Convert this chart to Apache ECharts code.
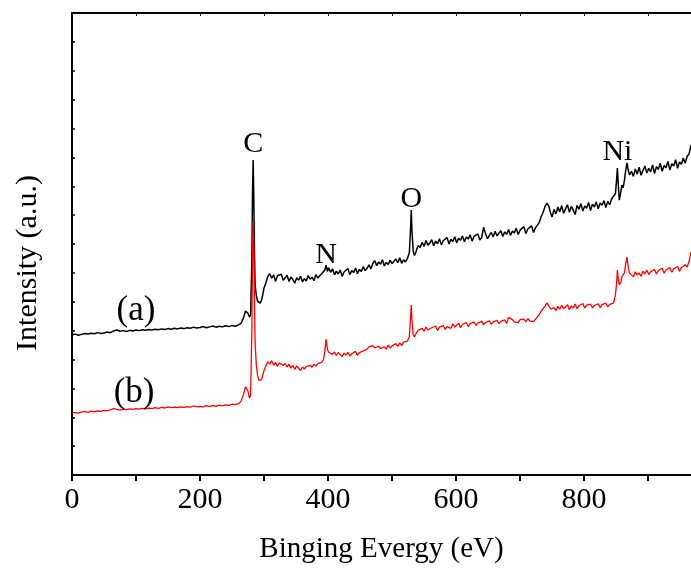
<!DOCTYPE html>
<html>
<head>
<meta charset="utf-8">
<script src="https://cdn.jsdelivr.net/npm/echarts@6/dist/echarts.min.js"></script>
<style>
  html, body { margin: 0; padding: 0; background: #fff; }
  #chart { width: 691px; height: 569px; }
</style>
</head>
<body>
<div id="chart"></div>
<script>
// XPS survey spectra: [binding energy (eV), intensity (a.u.)]
const spectrumA = [
  [0,4.85],[5,4.88],[10,4.84],[15,4.87],[20,4.90],[25,4.88],[30,4.91],[35,4.89],[40,4.93],[45,4.90],
  [50,4.92],[55,4.95],[60,4.93],[65,4.99],[70,5.02],[75,4.98],[80,5.00],[85,4.97],[90,5.01],[95,4.99],
  [100,5.02],[105,5.00],[110,5.03],[115,5.01],[120,5.04],[125,5.02],[130,5.05],[135,5.03],[140,5.06],[145,5.04],
  [150,5.07],[155,5.05],[160,5.08],[165,5.06],[170,5.09],[175,5.07],[180,5.10],[185,5.08],[190,5.12],[195,5.09],
  [200,5.11],[205,5.14],[210,5.10],[215,5.13],[220,5.16],[225,5.12],[230,5.15],[235,5.13],[240,5.17],[245,5.14],
  [250,5.18],[255,5.15],[260,5.20],[264,5.25],[268,5.45],[271,5.68],[273,5.72],[275,5.60],[277,5.47],[279,5.55],
  [281,7.5],[282,9.8],[283,10.91],[284,9.6],[285,7.8],[286,6.6],[288,6.2],[290,6.02],[292,5.96],[294,5.95],
  [296,6.05],[298,6.25],[300,6.48],
  [303,6.66],[306,6.88],[309,6.97],[312,6.82],[315,6.93],[318,6.71],[321,6.90],[324,6.84],[327,6.95],[330,6.74],
  [333,6.79],[336,6.92],[339,6.70],[342,6.86],[345,6.77],[348,6.64],[351,6.83],[354,6.75],[357,6.88],[360,6.69],
  [363,6.80],[366,6.72],[369,6.91],[372,6.78],[375,6.85],[378,6.73],[381,6.94],[384,6.82],[387,6.90],[390,6.97],
  [393,7.00],[395,7.10],[397,7.27],[399,7.05],[401,7.18],
  [404,7.02],[407,7.14],[410,6.93],[413,7.06],[416,6.96],[419,7.10],[422,6.88],[425,7.03],[428,7.00],[431,7.15],
  [434,6.94],[437,7.08],[440,7.01],[443,7.17],[446,6.97],[449,7.12],[452,7.05],[455,7.22],[458,7.08],[461,7.16],
  [464,7.28],[467,7.14],[470,7.33],[473,7.42],[476,7.25],[479,7.38],[482,7.30],[485,7.46],[488,7.24],[491,7.36],
  [494,7.29],[497,7.44],[500,7.32],[503,7.26],[506,7.48],[509,7.35],[512,7.52],[515,7.33],[518,7.45],[521,7.38],
  [524,7.50],
  [527,7.70],[529,8.6],[530,9.18],[531,8.5],[533,7.75],[535,7.60],[537,7.70],[539,7.85],[541,7.95],
  [544,7.88],[547,8.06],[550,7.92],[553,8.12],[556,7.96],[559,8.03],[562,8.15],[565,7.94],[568,8.10],[571,8.01],
  [574,8.18],[577,7.97],[580,8.12],[583,8.06],[586,8.22],[589,8.00],[592,8.16],[595,8.09],[598,8.25],[601,8.04],
  [604,8.20],[607,8.13],[610,8.28],[613,8.08],[616,8.24],[619,8.17],[622,8.32],[625,8.10],[628,8.26],[631,8.20],
  [634,8.35],[637,8.14],[640,8.22],[643,8.58],[646,8.36],[649,8.18],[652,8.30],[655,8.40],[658,8.24],[661,8.44],
  [664,8.28],[667,8.38],[670,8.46],[673,8.26],[676,8.42],[679,8.34],[682,8.50],[685,8.30],[688,8.45],[691,8.38],
  [694,8.55],[697,8.33],[700,8.48],[703,8.42],[706,8.60],[709,8.36],[712,8.52],[715,8.46],[718,8.63],[721,8.40],
  [724,8.56],[727,8.50],
  [730,8.75],[733,8.95],[736,9.10],[739,9.30],[742,9.42],[745,9.30],[748,9.05],[750,8.94],
  [753,9.20],[756,9.04],[759,9.28],[762,9.12],[765,9.33],[768,9.06],[771,9.22],[774,9.36],[777,9.10],[780,9.30],
  [783,9.18],[786,9.02],[789,9.34],[792,9.20],[795,9.40],[798,9.14],[801,9.32],[804,9.24],[807,9.44],[810,9.16],
  [813,9.38],[816,9.28],[819,9.46],[822,9.22],[825,9.42],[828,9.34],[831,9.50],[834,9.26],[837,9.48],[840,9.36],
  [843,9.56],
  [846,9.55],[849,9.75],[851,10.3],[852,10.63],[853,10.2],[855,9.52],[857,9.75],[859,10.04],[861,9.95],[863,10.2],
  [865,10.55],[867,10.81],[869,10.55],[871,10.39],
  [874,10.52],[877,10.34],[880,10.60],[883,10.42],[886,10.66],[889,10.38],[892,10.55],[895,10.70],[898,10.46],[901,10.62],
  [904,10.50],[907,10.74],[910,10.44],[913,10.68],[916,10.58],[919,10.80],[922,10.52],[925,10.72],[928,10.64],[931,10.86],
  [934,10.56],[937,10.78],[940,10.70],[943,10.92],[946,10.62],[949,10.84],[952,10.76],[955,10.98],[958,10.80],[961,11.04],
  [964,11.12],[967,11.43]
];

const spectrumB = [
  [0,2.15],[5,2.17],[10,2.14],[15,2.18],[20,2.20],[25,2.17],[30,2.21],[35,2.19],[40,2.22],[45,2.20],
  [50,2.24],[55,2.22],[60,2.26],[65,2.30],[70,2.27],[75,2.25],[80,2.28],[85,2.26],[90,2.29],[95,2.27],
  [100,2.30],[105,2.28],[110,2.31],[115,2.29],[120,2.32],[125,2.30],[130,2.33],[135,2.31],[140,2.34],[145,2.32],
  [150,2.36],[155,2.33],[160,2.35],[165,2.33],[170,2.36],[175,2.34],[180,2.37],[185,2.35],[190,2.39],[195,2.36],
  [200,2.38],[205,2.36],[210,2.40],[215,2.37],[220,2.41],[225,2.38],[230,2.42],[235,2.39],[240,2.43],[245,2.41],
  [250,2.45],[255,2.44],[260,2.47],[264,2.55],[268,2.80],[271,3.05],[273,3.08],[275,2.90],[277,2.67],[279,2.75],
  [281,5.0],[282,7.6],[283,8.83],[284,7.9],[285,6.0],[286,4.6],[288,3.8],[290,3.45],[292,3.28],[294,3.22],
  [296,3.30],[298,3.45],[300,3.62],
  [303,3.78],[306,3.92],[309,3.84],[312,3.96],[315,3.80],[318,3.90],[321,3.76],[324,3.88],[327,3.94],[330,3.79],
  [333,3.86],[336,3.74],[339,3.83],[342,3.70],[345,3.80],[348,3.66],[351,3.78],[354,3.72],[357,3.62],[360,3.74],
  [363,3.67],[366,3.76],[369,3.70],[372,3.80],[375,3.73],[378,3.84],[381,3.77],[384,3.86],[387,3.80],[390,3.90],
  [393,4.00],[395,4.30],[397,4.71],[399,4.35],[401,4.25],
  [404,4.30],[407,4.18],[410,4.26],[413,4.14],[416,4.24],[419,4.20],[422,4.10],[425,4.22],[428,4.15],[431,4.25],
  [434,4.12],[437,4.20],[440,4.17],[443,4.28],[446,4.14],[449,4.24],[452,4.20],[455,4.30],[458,4.24],[461,4.36],
  [464,4.44],[467,4.38],[470,4.48],[473,4.40],[476,4.35],[479,4.46],[482,4.38],[485,4.32],[488,4.44],[491,4.36],
  [494,4.50],[497,4.40],[500,4.47],[503,4.42],[506,4.55],[509,4.45],[512,4.58],[515,4.48],[518,4.60],[521,4.54],
  [524,4.64],
  [527,4.80],[529,5.5],[530,5.89],[531,5.4],[533,4.85],[535,4.78],[537,4.88],[539,4.95],[541,5.02],
  [544,4.96],[547,5.08],[550,4.98],[553,5.12],[556,5.02],[559,4.97],[562,5.10],[565,5.05],[568,5.16],[571,5.00],
  [574,5.12],[577,5.06],[580,5.18],[583,5.04],[586,5.14],[589,5.20],[592,5.08],[595,5.24],[598,5.12],[601,5.18],
  [604,5.26],[607,5.10],[610,5.22],[613,5.16],[616,5.28],[619,5.14],[622,5.24],[625,5.20],[628,5.30],[631,5.18],
  [634,5.26],[637,5.22],[640,5.32],[643,5.20],[646,5.28],[649,5.24],[652,5.34],[655,5.22],[658,5.30],[661,5.26],
  [664,5.36],[667,5.24],[670,5.32],[673,5.28],[676,5.37],[679,5.25],[682,5.46],[685,5.48],[688,5.38],[691,5.30],
  [694,5.36],[697,5.28],[700,5.38],[703,5.32],[706,5.40],[709,5.30],[712,5.42],[715,5.34],[718,5.39],[721,5.31],
  [724,5.40],[727,5.38],
  [730,5.55],[733,5.68],[736,5.72],[739,5.85],[742,5.96],[745,5.85],[748,5.74],[750,5.71],
  [753,5.80],[756,5.70],[759,5.84],[762,5.74],[765,5.88],[768,5.76],[771,5.82],[774,5.90],[777,5.72],[780,5.86],
  [783,5.78],[786,5.92],[789,5.76],[792,5.86],[795,5.80],[798,5.94],[801,5.78],[804,5.88],[807,5.82],[810,5.92],
  [813,5.79],[816,5.87],[819,5.83],[822,5.93],[825,5.80],[828,5.90],[831,5.85],[834,5.95],[837,5.82],[840,5.91],
  [843,5.94],
  [846,5.95],[849,6.25],[851,6.70],[852,7.10],[853,6.85],[855,6.58],[857,6.65],[859,6.86],[861,6.80],[863,7.00],
  [865,7.30],[867,7.55],[869,7.20],[871,7.00],
  [874,6.95],[877,6.86],[880,7.04],[883,6.92],[886,7.00],[889,6.88],[892,7.06],[895,6.96],[898,7.10],[901,6.94],
  [904,7.04],[907,6.98],[910,7.12],[913,6.96],[916,7.08],[919,7.02],[922,7.16],[925,6.99],[928,7.10],[931,7.05],
  [934,7.18],[937,7.02],[940,7.14],[943,7.08],[946,7.22],[949,7.06],[952,7.18],[955,7.12],[958,7.28],[961,7.20],
  [964,7.40],[967,7.72]
];

// Element peaks labelled on spectrum (a): [name, binding energy, intensity]
const peakLabels = [
  ['C', 283, 10.91],
  ['N', 397, 7.27],
  ['O', 530, 9.18],
  ['Ni', 852, 10.63]
];

// Sample tags placed beside each curve: [text, energy, intensity]
const sampleTags = [
  ['(a)', 100, 5.68],
  ['(b)', 97, 2.84]
];

const xTickLabels = [0, 200, 400, 600, 800];

const FONT = "'Liberation Serif', 'Times New Roman', serif";
// gap between each peak and its element symbol, in px
const peakLabelGap = { C: 1, N: -5, O: -4, Ni: 1 };

const chart = echarts.init(document.getElementById('chart'), null, { renderer: 'canvas' });

const axisLineStyle = { color: '#000', width: 2 };

const option = {
  animation: false,
  backgroundColor: '#fff',
  grid: { left: 72, right: 0, top: 13, bottom: 94, containLabel: false, outerBoundsMode: 'none' },
  xAxis: [
    {
      type: 'value', min: 0, max: 967, interval: 100,
      name: 'Binging Evergy (eV)', nameLocation: 'middle', nameGap: 60,
      nameTextStyle: { fontFamily: FONT, fontSize: 29, color: '#000' },
      axisLine: { lineStyle: axisLineStyle },
      axisTick: { inside: false, length: 6, lineStyle: { color: '#000', width: 2 } },
      axisLabel: {
        fontFamily: FONT, fontSize: 30, color: '#000', margin: 10,
        showMaxLabel: false,
        formatter: v => (xTickLabels.indexOf(v) >= 0 ? String(v) : '')
      },
      splitLine: { show: false }
    },
    {
      type: 'value', position: 'top', min: 0, max: 967, interval: 100,
      axisLine: { show: true, lineStyle: axisLineStyle },
      axisTick: { show: true, inside: true, length: 3, lineStyle: { color: '#000', width: 1 } },
      axisLabel: { show: false },
      splitLine: { show: false }
    }
  ],
  yAxis: {
    type: 'value', min: 0, max: 16, interval: 1,
    axisLine: { show: true, lineStyle: axisLineStyle },
    axisTick: { inside: true, length: 3, lineStyle: { color: '#000', width: 1.5 } },
    axisLabel: { show: false },
    splitLine: { show: false }
  },
  graphic: [{
    type: 'text', x: 28, y: 263, rotation: Math.PI / 2,
    style: {
      text: 'Intensity (a.u.)', fontFamily: FONT, fontSize: 30, fill: '#000',
      textAlign: 'center', textVerticalAlign: 'middle'
    }
  }],
  series: [
    {
      name: '(a)', type: 'line', data: spectrumA, showSymbol: false,
      lineStyle: { color: '#000', width: 1.5 }, z: 2,
      markPoint: {
        symbol: 'circle', symbolSize: 0,
        label: {
          show: true, position: 'top',
          fontFamily: FONT, fontSize: 30, color: '#000',
          formatter: p => p.name
        },
        data: peakLabels.map(p => ({
          name: p[0], coord: [p[1], p[2]],
          label: { distance: peakLabelGap[p[0]] }
        })).concat([{
          name: sampleTags[0][0], coord: [sampleTags[0][1], sampleTags[0][2]],
          label: { position: 'inside', fontSize: 35 }
        }])
      }
    },
    {
      name: '(b)', type: 'line', data: spectrumB, showSymbol: false,
      lineStyle: { color: '#ff0000', width: 1.3 }, z: 3,
      markPoint: {
        symbol: 'circle', symbolSize: 0,
        label: {
          show: true, position: 'inside',
          fontFamily: FONT, fontSize: 35, color: '#000',
          formatter: p => p.name
        },
        data: [{ name: sampleTags[1][0], coord: [sampleTags[1][1], sampleTags[1][2]] }]
      }
    }
  ]
};

chart.setOption(option);
</script>
</body>
</html>
